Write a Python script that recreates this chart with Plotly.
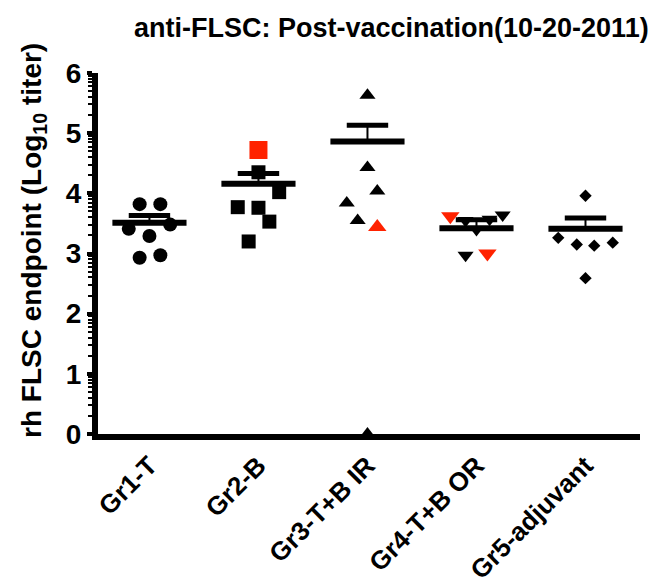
import math
import plotly.graph_objects as go

# ---- data ----
groups = ["Gr1-T", "Gr2-B", "Gr3-T+B IR", "Gr4-T+B OR", "Gr5-adjuvant"]
gr1_values = [3.82, 3.82, 3.41, 3.48, 3.29, 2.93, 2.97]
gr2_values = [4.72, 4.35, 4.02, 3.77, 3.76, 3.53, 3.20]
gr3_values = [5.63, 4.43, 4.04, 3.84, 3.55, 3.44, 0.0]
gr4_values = [3.62, 3.64, 3.55, 3.57, 3.40, 2.97, 3.00]
gr5_values = [3.96, 3.26, 3.15, 3.13, 3.18, 2.59]
group_means = [3.51, 4.16, 4.86, 3.42, 3.41]
group_sems = [0.12, 0.17, 0.27, 0.14, 0.18]
# animals highlighted in red (index within each group)
highlighted = [[], [0], [5], [0, 6], []]
y_ticks = [0, 1, 2, 3, 4, 5, 6]

# ---- presentation ----
all_values = [gr1_values, gr2_values, gr3_values, gr4_values, gr5_values]
spread = [
    [-0.09, 0.10, -0.19, 0.19, 0.0, -0.09, 0.10],
    [0.0, 0.0, 0.19, -0.19, 0.0, 0.10, -0.09],
    [0.0, 0.0, 0.09, -0.19, -0.09, 0.09, 0.0],
    [-0.24, 0.24, -0.10, 0.12, 0.0, -0.10, 0.10],
    [0.0, -0.25, -0.08, 0.08, 0.25, 0.0],
]
symbols = ["circle", "square", "triangle-up", "triangle-down", "diamond"]
sizes = [14, 14, 14, 14, 9.5]
red_sizes = [16, 18, 16, 16, 11]
RED = "#FF2200"
FONT = "Liberation Sans, Arial, Helvetica, sans-serif"

fig = go.Figure()

for i, vals in enumerate(all_values):
    xs = [i + d for d in spread[i]]
    blk = [k for k in range(len(vals)) if k not in highlighted[i]]
    red = highlighted[i]
    fig.add_trace(go.Scatter(
        x=[xs[k] for k in blk], y=[vals[k] for k in blk], mode="markers",
        marker=dict(symbol=symbols[i], size=sizes[i], color="black", line=dict(width=0)),
        cliponaxis=False, showlegend=False, hoverinfo="y"))
    if red:
        fig.add_trace(go.Scatter(
            x=[xs[k] for k in red], y=[vals[k] for k in red], mode="markers",
            marker=dict(symbol=symbols[i], size=red_sizes[i], color=RED, line=dict(width=0)),
            cliponaxis=False, showlegend=False, hoverinfo="y"))

# mean and SEM (upper) bars
for i, (m, s) in enumerate(zip(group_means, group_sems)):
    fig.add_trace(go.Scatter(x=[i, i], y=[m, m + s], mode="lines",
                             line=dict(color="black", width=2),
                             showlegend=False, hoverinfo="skip"))
    fig.add_trace(go.Scatter(x=[i - 0.19, i + 0.19], y=[m + s, m + s], mode="lines",
                             line=dict(color="black", width=5),
                             showlegend=False, hoverinfo="skip"))
    fig.add_trace(go.Scatter(x=[i - 0.34, i + 0.34], y=[m, m], mode="lines",
                             line=dict(color="black", width=6),
                             showlegend=False, hoverinfo="skip"))

minor_vals = [n + math.log10(k) for n in range(6) for k in range(2, 10)]

fig.update_layout(
    width=665, height=586,
    margin=dict(l=98, r=25, t=73, b=152, autoexpand=False),
    paper_bgcolor="white", plot_bgcolor="white",
    font=dict(family=FONT, color="black"),
    xaxis=dict(
        range=[-0.472, 4.5], tickmode="array", tickvals=list(range(len(groups))),
        ticktext=groups, tickangle=-45, showgrid=False, zeroline=False,
        showline=True, linewidth=6, linecolor="black", ticks="", automargin=False,
        tickfont=dict(family=FONT, size=26, weight="bold", color="black"),
    ),
    yaxis=dict(
        range=[0, 6], tickmode="array", tickvals=y_ticks,
        ticktext=[str(t) for t in y_ticks],
        showgrid=False, zeroline=False, automargin=False,
        showline=True, linewidth=6, linecolor="black",
        ticks="outside", ticklen=5, tickwidth=4, tickcolor="black",
        minor=dict(tickmode="array", tickvals=minor_vals, ticks="outside",
                   ticklen=4, tickwidth=2, tickcolor="black", showgrid=False),
        tickfont=dict(family=FONT, size=28, weight="bold", color="black"),
    ),
    annotations=[
        dict(text="anti-FLSC: Post-vaccination(10-20-2011)", xref="paper", yref="paper",
             x=0.541, y=1.0, yshift=45, xanchor="center", yanchor="middle",
             showarrow=False, font=dict(family=FONT, size=27, weight="bold", color="black")),
        dict(text="rh FLSC endpoint (Log<sub>10</sub> titer)", xref="paper", yref="paper",
             x=-0.118, y=0.535, xanchor="center", yanchor="middle", textangle=-90,
             showarrow=False, font=dict(family=FONT, size=28, weight="bold", color="black")),
    ],
)

fig.write_html("out.html")
